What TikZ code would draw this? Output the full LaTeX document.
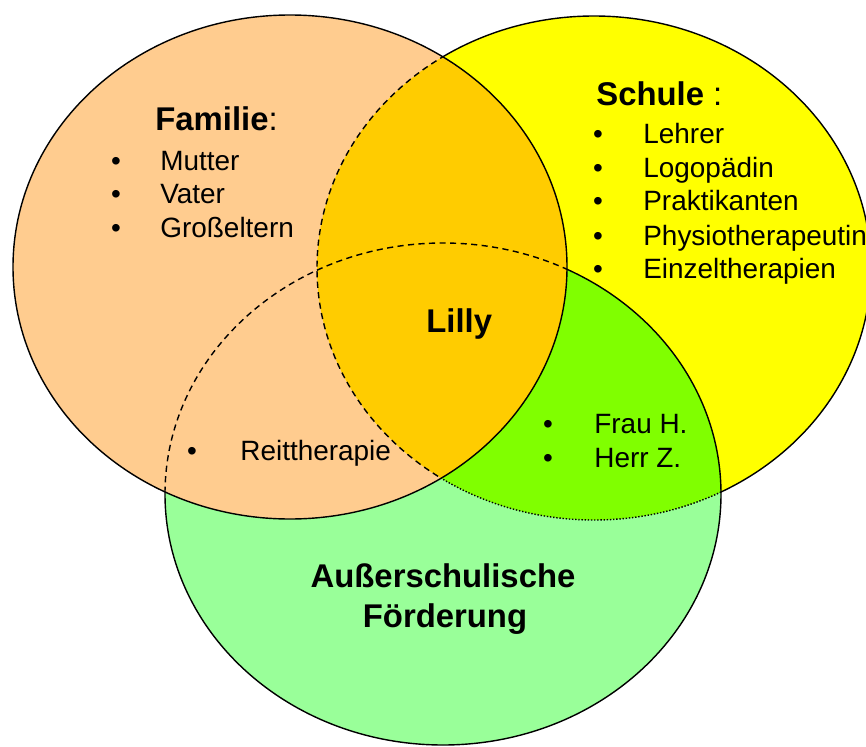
\documentclass[tikz,border=0pt]{standalone}
\usepackage{fontspec}
\setmainfont{Liberation Sans}
\definecolor{famfill}{HTML}{FFCC8F}
\definecolor{goldfill}{HTML}{FFCC00}
\definecolor{yelfill}{HTML}{FFFF00}
\definecolor{grnfill}{HTML}{99FF99}
\definecolor{limefill}{HTML}{80FF00}
\begin{document}
\begin{tikzpicture}[x=0.02cm,y=-0.02cm,
  outline/.style={draw=black, line width=0.8pt},
  hiddash/.style={draw=black, line width=0.8pt, dash pattern=on 3.5pt off 2.5pt},
  hiddot/.style={draw=black, line width=0.8pt, dash pattern=on 0.8pt off 1pt},
  item/.style={anchor=base west, inner sep=0pt, font=\fontsize{15.9}{19}\selectfont},
  bul/.style={anchor=base, inner sep=0pt, font=\fontsize{15.9}{19}\selectfont},
  head/.style={anchor=base west, inner sep=0pt, font=\fontsize{18.7}{22}\selectfont},
  bighead/.style={anchor=base, inner sep=0pt, font=\fontsize{18.7}{22}\selectfont\bfseries},
]
\useasboundingbox (0,0) rectangle (866,747);
% Schule (yellow, bottom layer)
\fill[yelfill] (594,268) ellipse [x radius=277, y radius=252];
\draw[outline] (594,268) ellipse [x radius=277, y radius=252];
% Ausserschulische Foerderung (green, middle layer)
\fill[grnfill] (443,494) ellipse [x radius=278, y radius=251];
\begin{scope}
  \clip (594,268) ellipse [x radius=277, y radius=252];
  \fill[limefill] (443,494) ellipse [x radius=278, y radius=251];
\end{scope}
\begin{scope}
  \clip (443,494) ellipse [x radius=278, y radius=251];
  \draw[hiddot] (594,268) ellipse [x radius=277, y radius=252];
\end{scope}
\draw[outline] (443,494) ellipse [x radius=278, y radius=251];
% Familie (orange, top layer)
\fill[famfill] (290,267) ellipse [x radius=277, y radius=252];
\begin{scope}
  \clip (594,268) ellipse [x radius=277, y radius=252];
  \fill[goldfill] (290,267) ellipse [x radius=277, y radius=252];
\end{scope}
\begin{scope}
  \clip (290,267) ellipse [x radius=277, y radius=252];
  \draw[hiddash] (594,268) ellipse [x radius=277, y radius=252];
  \draw[hiddash] (443,494) ellipse [x radius=278, y radius=251];
\end{scope}
\draw[outline] (290,267) ellipse [x radius=277, y radius=252];

% Familie text
\node[head] (famhead) at (155,130) {\textbf{Familie}:};
\node[bul] (fb1) at (116,170) {•};
\node[item] (f1) at (160,170) {Mutter};
\node[bul] (fb2) at (116,203) {•};
\node[item] (f2) at (160,203) {Vater};
\node[bul] (fb3) at (116,237) {•};
\node[item] (f3) at (160,237) {Großeltern};

% Schule text
\node[head] (schead) at (596,105) {\textbf{Schule} :};
\node[bul] (sb1) at (598,143) {•};
\node[item] (s1) at (643,143) {Lehrer};
\node[bul] (sb2) at (598,177) {•};
\node[item] (s2) at (643,177) {Logopädin};
\node[bul] (sb3) at (598,210) {•};
\node[item] (s3) at (643,210) {Praktikanten};
\node[bul] (sb4) at (598,245) {•};
\node[item] (s4) at (643,245) {Physiotherapeutin};
\node[bul] (sb5) at (598,278) {•};
\node[item] (s5) at (643,278) {Einzeltherapien};

% centre
\node[head] (lilly) at (426,332) {\textbf{Lilly}};

% overlaps
\node[bul] (rb) at (192,460) {•};
\node[item] (r1) at (240,460) {Reittherapie};
\node[bul] (gb1) at (548,433) {•};
\node[item] (g1) at (594,433) {Frau H.};
\node[bul] (gb2) at (548,467) {•};
\node[item] (g2) at (594,467) {Herr Z.};

% green heading
\node[bighead] (ghead1) at (443,587) {Außerschulische};
\node[bighead] (ghead2) at (445,627) {Förderung};
\end{tikzpicture}
\end{document}
